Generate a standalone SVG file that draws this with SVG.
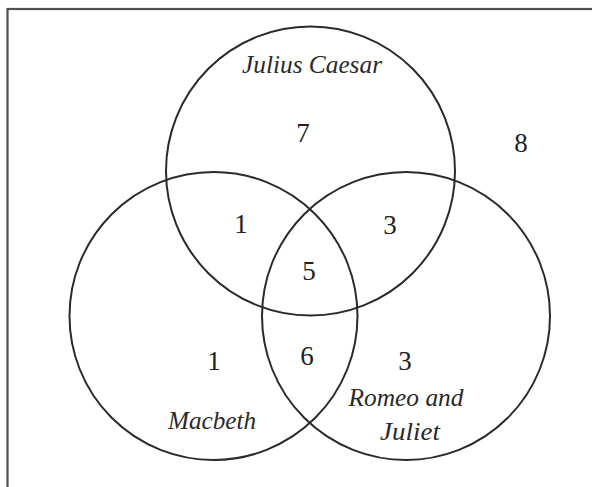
<svg xmlns="http://www.w3.org/2000/svg" width="592" height="487" viewBox="0 0 592 487">
  <style>
    .set { fill: none; stroke: #2a2a2a; stroke-width: 2; }
    .lbl { font-family: "Liberation Serif", "DejaVu Serif", serif; font-style: italic; font-size: 26px; fill: #2a2a2a; text-anchor: middle; }
    .num { font-family: "Liberation Serif", "DejaVu Serif", serif; font-size: 27px; fill: #222; text-anchor: middle; }
  </style>
  <rect x="0" y="0" width="592" height="487" fill="#ffffff"/>
  <rect x="7.5" y="9" width="620" height="520" fill="none" stroke="#505050" stroke-width="2.2"/>
  <g id="julius-caesar">
    <circle class="set" cx="310.5" cy="171" r="144.5"/>
    <text class="lbl" x="312" y="73" textLength="140" lengthAdjust="spacingAndGlyphs">Julius Caesar</text>
  </g>
  <g id="macbeth">
    <circle class="set" cx="213.5" cy="316" r="144"/>
    <text class="lbl" x="212" y="429" textLength="88" lengthAdjust="spacingAndGlyphs">Macbeth</text>
  </g>
  <g id="romeo-and-juliet">
    <circle class="set" cx="406" cy="316" r="144"/>
    <text class="lbl" x="406" y="406" textLength="115" lengthAdjust="spacingAndGlyphs">Romeo and</text>
    <text class="lbl" x="410" y="440" textLength="60" lengthAdjust="spacingAndGlyphs">Juliet</text>
  </g>
  <g id="counts">
    <text class="num" x="303" y="142">7</text>
    <text class="num" x="241" y="233">1</text>
    <text class="num" x="390" y="234">3</text>
    <text class="num" x="309" y="280">5</text>
    <text class="num" x="214" y="370">1</text>
    <text class="num" x="307" y="365">6</text>
    <text class="num" x="405" y="370">3</text>
    <text class="num" x="521" y="152">8</text>
  </g>
  <g id="connectors"></g>
</svg>
